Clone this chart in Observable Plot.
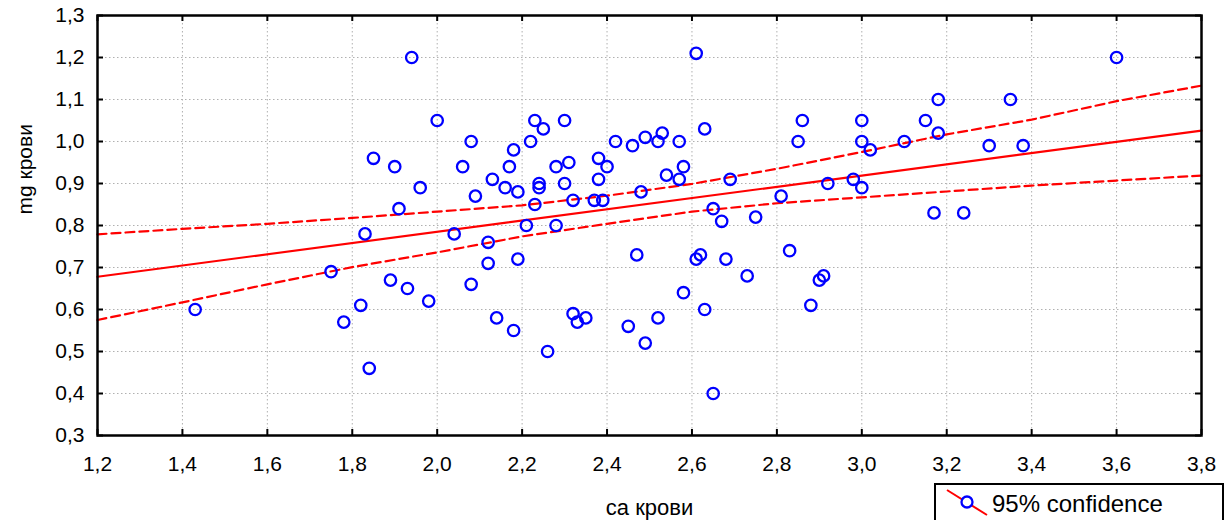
<!DOCTYPE html>
<html>
<head>
<meta charset="utf-8">
<script src="https://cdn.jsdelivr.net/npm/d3@7"></script>
<script src="https://cdn.jsdelivr.net/npm/@observablehq/plot@0.6"></script>
<style>
  html, body { margin: 0; padding: 0; background: #fff; overflow: hidden; }
  #chart { position: relative; width: 1226px; height: 520px; }
</style>
</head>
<body>
<div id="chart"></div>
<script>
// ---- data ----
const caX = [
  1.94, 2.00, 2.08, 1.85, 1.90, 2.06, 1.96, 2.09, 1.91, 1.83, 2.04, 1.75, 1.89, 1.93, 1.98, 2.08, 1.43, 1.82, 1.78, 1.84,
  2.61, 2.23, 2.30, 2.25, 2.63, 2.86, 2.22, 2.42, 2.46, 2.49, 2.52, 2.53, 2.57, 2.85, 2.18, 2.17, 2.28, 2.31, 2.38, 2.40,
  2.58, 2.13, 2.16, 2.19, 2.24, 2.24, 2.30, 2.38, 2.54, 2.57, 2.69, 2.48, 2.92, 2.81, 2.23, 2.32, 2.37, 2.39, 2.65, 2.67,
  2.75, 2.21, 2.28, 2.12, 2.12, 2.19, 2.47, 2.61, 2.62, 2.68, 2.83, 2.73, 2.90, 2.91, 2.58, 2.88, 2.63, 2.14, 2.32, 2.33,
  2.35, 2.45, 2.52, 2.18, 2.26, 2.49, 2.65,
  3.60, 3.18, 3.35, 3.00, 3.15, 3.18, 3.00, 3.02, 3.10, 3.30, 3.38, 2.98, 3.00, 3.17, 3.24
];
const mgY = [
  1.20, 1.05, 1.00, 0.96, 0.94, 0.94, 0.89, 0.87, 0.84, 0.78, 0.78, 0.69, 0.67, 0.65, 0.62, 0.66, 0.60, 0.61, 0.57, 0.46,
  1.21, 1.05, 1.05, 1.03, 1.03, 1.05, 1.00, 1.00, 0.99, 1.01, 1.00, 1.02, 1.00, 1.00, 0.98, 0.94, 0.94, 0.95, 0.96, 0.94,
  0.94, 0.91, 0.89, 0.88, 0.90, 0.89, 0.90, 0.91, 0.92, 0.91, 0.91, 0.88, 0.90, 0.87, 0.85, 0.86, 0.86, 0.86, 0.84, 0.81,
  0.82, 0.80, 0.80, 0.76, 0.71, 0.72, 0.73, 0.72, 0.73, 0.72, 0.74, 0.68, 0.67, 0.68, 0.64, 0.61, 0.60, 0.58, 0.59, 0.57,
  0.58, 0.56, 0.58, 0.55, 0.50, 0.52, 0.40,
  1.20, 1.10, 1.10, 1.05, 1.05, 1.02, 1.00, 0.98, 1.00, 0.99, 0.99, 0.91, 0.89, 0.83, 0.83
];
// fitted regression line (end points) and 95% confidence limits
const fitX = [1.2, 3.8];
const fitY = [0.678, 1.026];
const ciX     = [1.2, 1.4, 1.6, 1.8, 2.0, 2.2, 2.4, 2.6, 2.8, 3.0, 3.2, 3.4, 3.6, 3.8];
const ciUpper = [0.779, 0.792, 0.804, 0.818, 0.833, 0.848, 0.871, 0.899, 0.935, 0.975, 1.017, 1.052, 1.096, 1.133];
const ciLower = [0.575, 0.617, 0.660, 0.701, 0.736, 0.774, 0.804, 0.833, 0.853, 0.867, 0.881, 0.895, 0.907, 0.919];
// ticks
const xTicks = [1.2, 1.4, 1.6, 1.8, 2.0, 2.2, 2.4, 2.6, 2.8, 3.0, 3.2, 3.4, 3.6, 3.8];
const yTicks = [0.3, 0.4, 0.5, 0.6, 0.7, 0.8, 0.9, 1.0, 1.1, 1.2, 1.3];
const xLabel = "са крови";
const yLabel = "mg крови";
const legendLabel = "95% confidence";

// ---- build ----
const points = caX.map((x, i) => ({x, y: mgY[i]}));
const fit = fitX.map((x, i) => ({x, y: fitY[i]}));
const upper = ciX.map((x, i) => ({x, y: ciUpper[i]}));
const lower = ciX.map((x, i) => ({x, y: ciLower[i]}));
const fmt = d => d3.format(".1f")(d).replace(".", ",");

const W = 1226, H = 520;
const mL = 97, mR = 25, mT = 15, mB = 85;
const pw = W - mL - mR, ph = H - mT - mB;
const red = "#ff0000", blue = "#0000ff";
const font = "'Liberation Sans', Arial, Helvetica, sans-serif";

const plot = Plot.plot({
  width: W, height: H,
  marginLeft: mL, marginRight: mR, marginTop: mT, marginBottom: mB,
  style: {fontFamily: font, fontSize: "21px", color: "#000", background: "#fff", overflow: "visible"},
  x: {domain: [1.2, 3.8], ticks: xTicks, tickFormat: fmt, tickSize: 0, tickPadding: 21, label: null},
  y: {domain: [0.3, 1.3], ticks: yTicks, tickFormat: fmt, tickSize: 0, tickPadding: 13, label: null},
  marks: [
    Plot.ruleX(xTicks.slice(1, -1), {stroke: "#b0b0b0", strokeWidth: 1, strokeDasharray: "1.5,2.5"}),
    Plot.ruleY(yTicks.slice(1, -1), {stroke: "#b0b0b0", strokeWidth: 1, strokeDasharray: "1.5,2.5"}),
    Plot.line(upper, {x: "x", y: "y", stroke: red, strokeWidth: 2.2, strokeDasharray: "9,5"}),
    Plot.line(lower, {x: "x", y: "y", stroke: red, strokeWidth: 2.2, strokeDasharray: "9,5"}),
    Plot.line(fit, {x: "x", y: "y", stroke: red, strokeWidth: 2.2}),
    Plot.dot(points, {x: "x", y: "y", r: 5.7, stroke: blue, strokeWidth: 2.3, fill: "none"}),
    Plot.frame({stroke: "#000", strokeWidth: 2.5}),
    Plot.tickY(yTicks, {y: d => d, stroke: "#000", strokeWidth: 2, insetRight: pw - 6}),
    Plot.tickY(yTicks, {y: d => d, stroke: "#000", strokeWidth: 2, insetLeft: pw - 6}),
    Plot.tickX(xTicks, {x: d => d, stroke: "#000", strokeWidth: 2, insetTop: ph - 6}),
    Plot.tickX(xTicks, {x: d => d, stroke: "#000", strokeWidth: 2, insetBottom: ph - 6}),
    Plot.text([xLabel], {frameAnchor: "bottom", dy: 79, lineAnchor: "bottom", fontSize: 22, text: d => d}),
    Plot.text([yLabel], {frameAnchor: "left", dx: -72, dy: -11, rotate: -90, fontSize: 21, text: d => d})
  ]
});
document.getElementById("chart").appendChild(plot);

// ---- legend (bottom right, partially cut off like the reference) ----
const svg = d3.select(plot);
const lg = svg.append("g").attr("class", "legend");
lg.append("rect").attr("x", 935).attr("y", 484).attr("width", 288).attr("height", 60)
  .attr("fill", "#fff").attr("stroke", "#000").attr("stroke-width", 2);
lg.append("line").attr("x1", 947).attr("y1", 490).attr("x2", 987).attr("y2", 515)
  .attr("stroke", red).attr("stroke-width", 2);
lg.append("circle").attr("cx", 967).attr("cy", 502).attr("r", 5.5)
  .attr("fill", "#fff").attr("stroke", blue).attr("stroke-width", 2.3);
lg.append("text").attr("x", 992).attr("y", 512)
  .style("font-size", "24px").style("font-family", font).style("text-anchor", "start")
  .attr("fill", "#000").text(legendLabel);
</script>
</body>
</html>
